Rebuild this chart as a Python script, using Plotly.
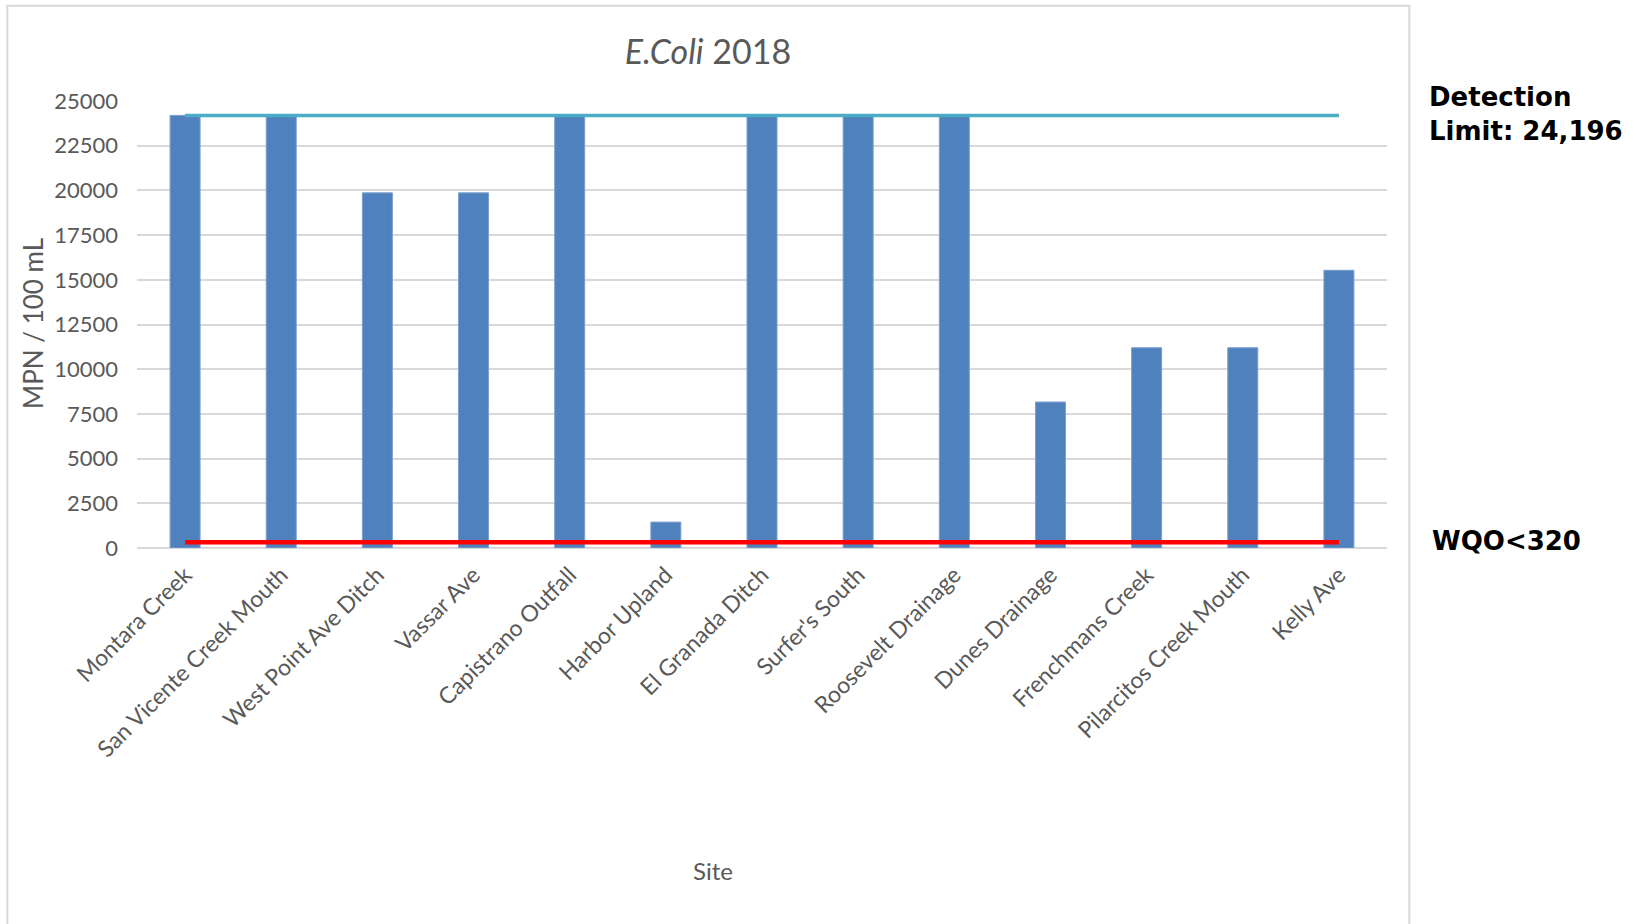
import plotly.graph_objects as go

# Sampling sites and E. coli results (MPN / 100 mL)
sites = [
    "Montara Creek", "San Vicente Creek Mouth", "West Point Ave Ditch",
    "Vassar Ave", "Capistrano Outfall", "Harbor Upland", "El Granada Ditch",
    "Surfer's South", "Roosevelt Drainage", "Dunes Drainage",
    "Frenchmans Creek", "Pilarcitos Creek Mouth", "Kelly Ave",
]
ecoli_2018 = [24196, 24196, 19863, 19863, 24196, 1450, 24196,
              24196, 24196, 8164, 11199, 11199, 15531]
detection_limit = [24196] * len(sites)
wqo_limit = [320] * len(sites)

y_ticks = [0, 2500, 5000, 7500, 10000, 12500, 15000, 17500, 20000, 22500, 25000]

W, H = 1639, 924
L, R, T, B = 137, 252, 101, 376
plot_w = W - L - R
plot_h = H - T - B


def px_x(p):
    return (p - L) / plot_w


def px_y(p):
    return (H - B - p) / plot_h


label_font = "Lato, 'Open Sans', sans-serif"
grey = "#595959"

fig = go.Figure()
fig.add_trace(go.Bar(
    x=sites, y=ecoli_2018, name="E.Coli",
    marker=dict(color="#4F81BD", line=dict(color="#7A9FD0", width=1)),
))
fig.add_trace(go.Scatter(
    x=sites, y=detection_limit, mode="lines", name="Detection Limit",
    line=dict(color="#4BACC6", width=3.5),
))
fig.add_trace(go.Scatter(
    x=sites, y=wqo_limit, mode="lines", name="WQO",
    line=dict(color="#FF0000", width=4.5),
))

fig.update_layout(
    width=W, height=H,
    margin=dict(l=L, r=R, t=T, b=B),
    paper_bgcolor="white", plot_bgcolor="white",
    showlegend=False,
    bargap=0.688,
    title=dict(
        text="<i>E.Coli</i> 2018",
        font=dict(family=label_font, size=34, color=grey),
        xref="container", x=708 / W, xanchor="center",
        yref="container", y=1 - 52 / H, yanchor="middle",
    ),
    xaxis=dict(
        type="category", tickangle=-45,
        tickfont=dict(family=label_font, size=23, color=grey),
        showgrid=False, showline=False, ticks="",
        ticklabelstandoff=8,
    ),
    yaxis=dict(
        range=[0, 25000], tickvals=y_ticks, tickformat="d",
        tickfont=dict(family=label_font, size=22, color=grey),
        gridcolor="#D9D9D9", gridwidth=2,
        zeroline=True, zerolinecolor="#D9D9D9", zerolinewidth=2,
        showline=False, ticks="", ticklabelstandoff=18,
    ),
    shapes=[dict(
        type="rect", xref="paper", yref="paper", layer="below",
        x0=px_x(7.3), x1=px_x(1409.3), y0=px_y(940), y1=px_y(5.7),
        line=dict(color="#D9D9D9", width=2), fillcolor="rgba(0,0,0,0)",
    )],
    annotations=[
        dict(text="MPN / 100 mL", textangle=-90, showarrow=False,
             xref="paper", yref="paper", x=px_x(33), y=px_y(324),
             xanchor="center", yanchor="middle",
             font=dict(family=label_font, size=26, color=grey)),
        dict(text="Site", showarrow=False,
             xref="paper", yref="paper", x=px_x(713), y=px_y(870),
             xanchor="center", yanchor="middle",
             font=dict(family=label_font, size=24, color=grey)),
        dict(text="<b>Detection<br>Limit: 24,196</b>", showarrow=False, align="left",
             xref="paper", yref="paper", x=px_x(1427), y=px_y(114),
             xanchor="left", yanchor="middle",
             font=dict(family="DejaVu Sans, Verdana, sans-serif", size=26, color="black")),
        dict(text="<b>WQO&lt;320</b>", showarrow=False, align="left",
             xref="paper", yref="paper", x=px_x(1430), y=px_y(541),
             xanchor="left", yanchor="middle",
             font=dict(family="DejaVu Sans, Verdana, sans-serif", size=26, color="black")),
    ],
)

fig.write_html("out.html")
